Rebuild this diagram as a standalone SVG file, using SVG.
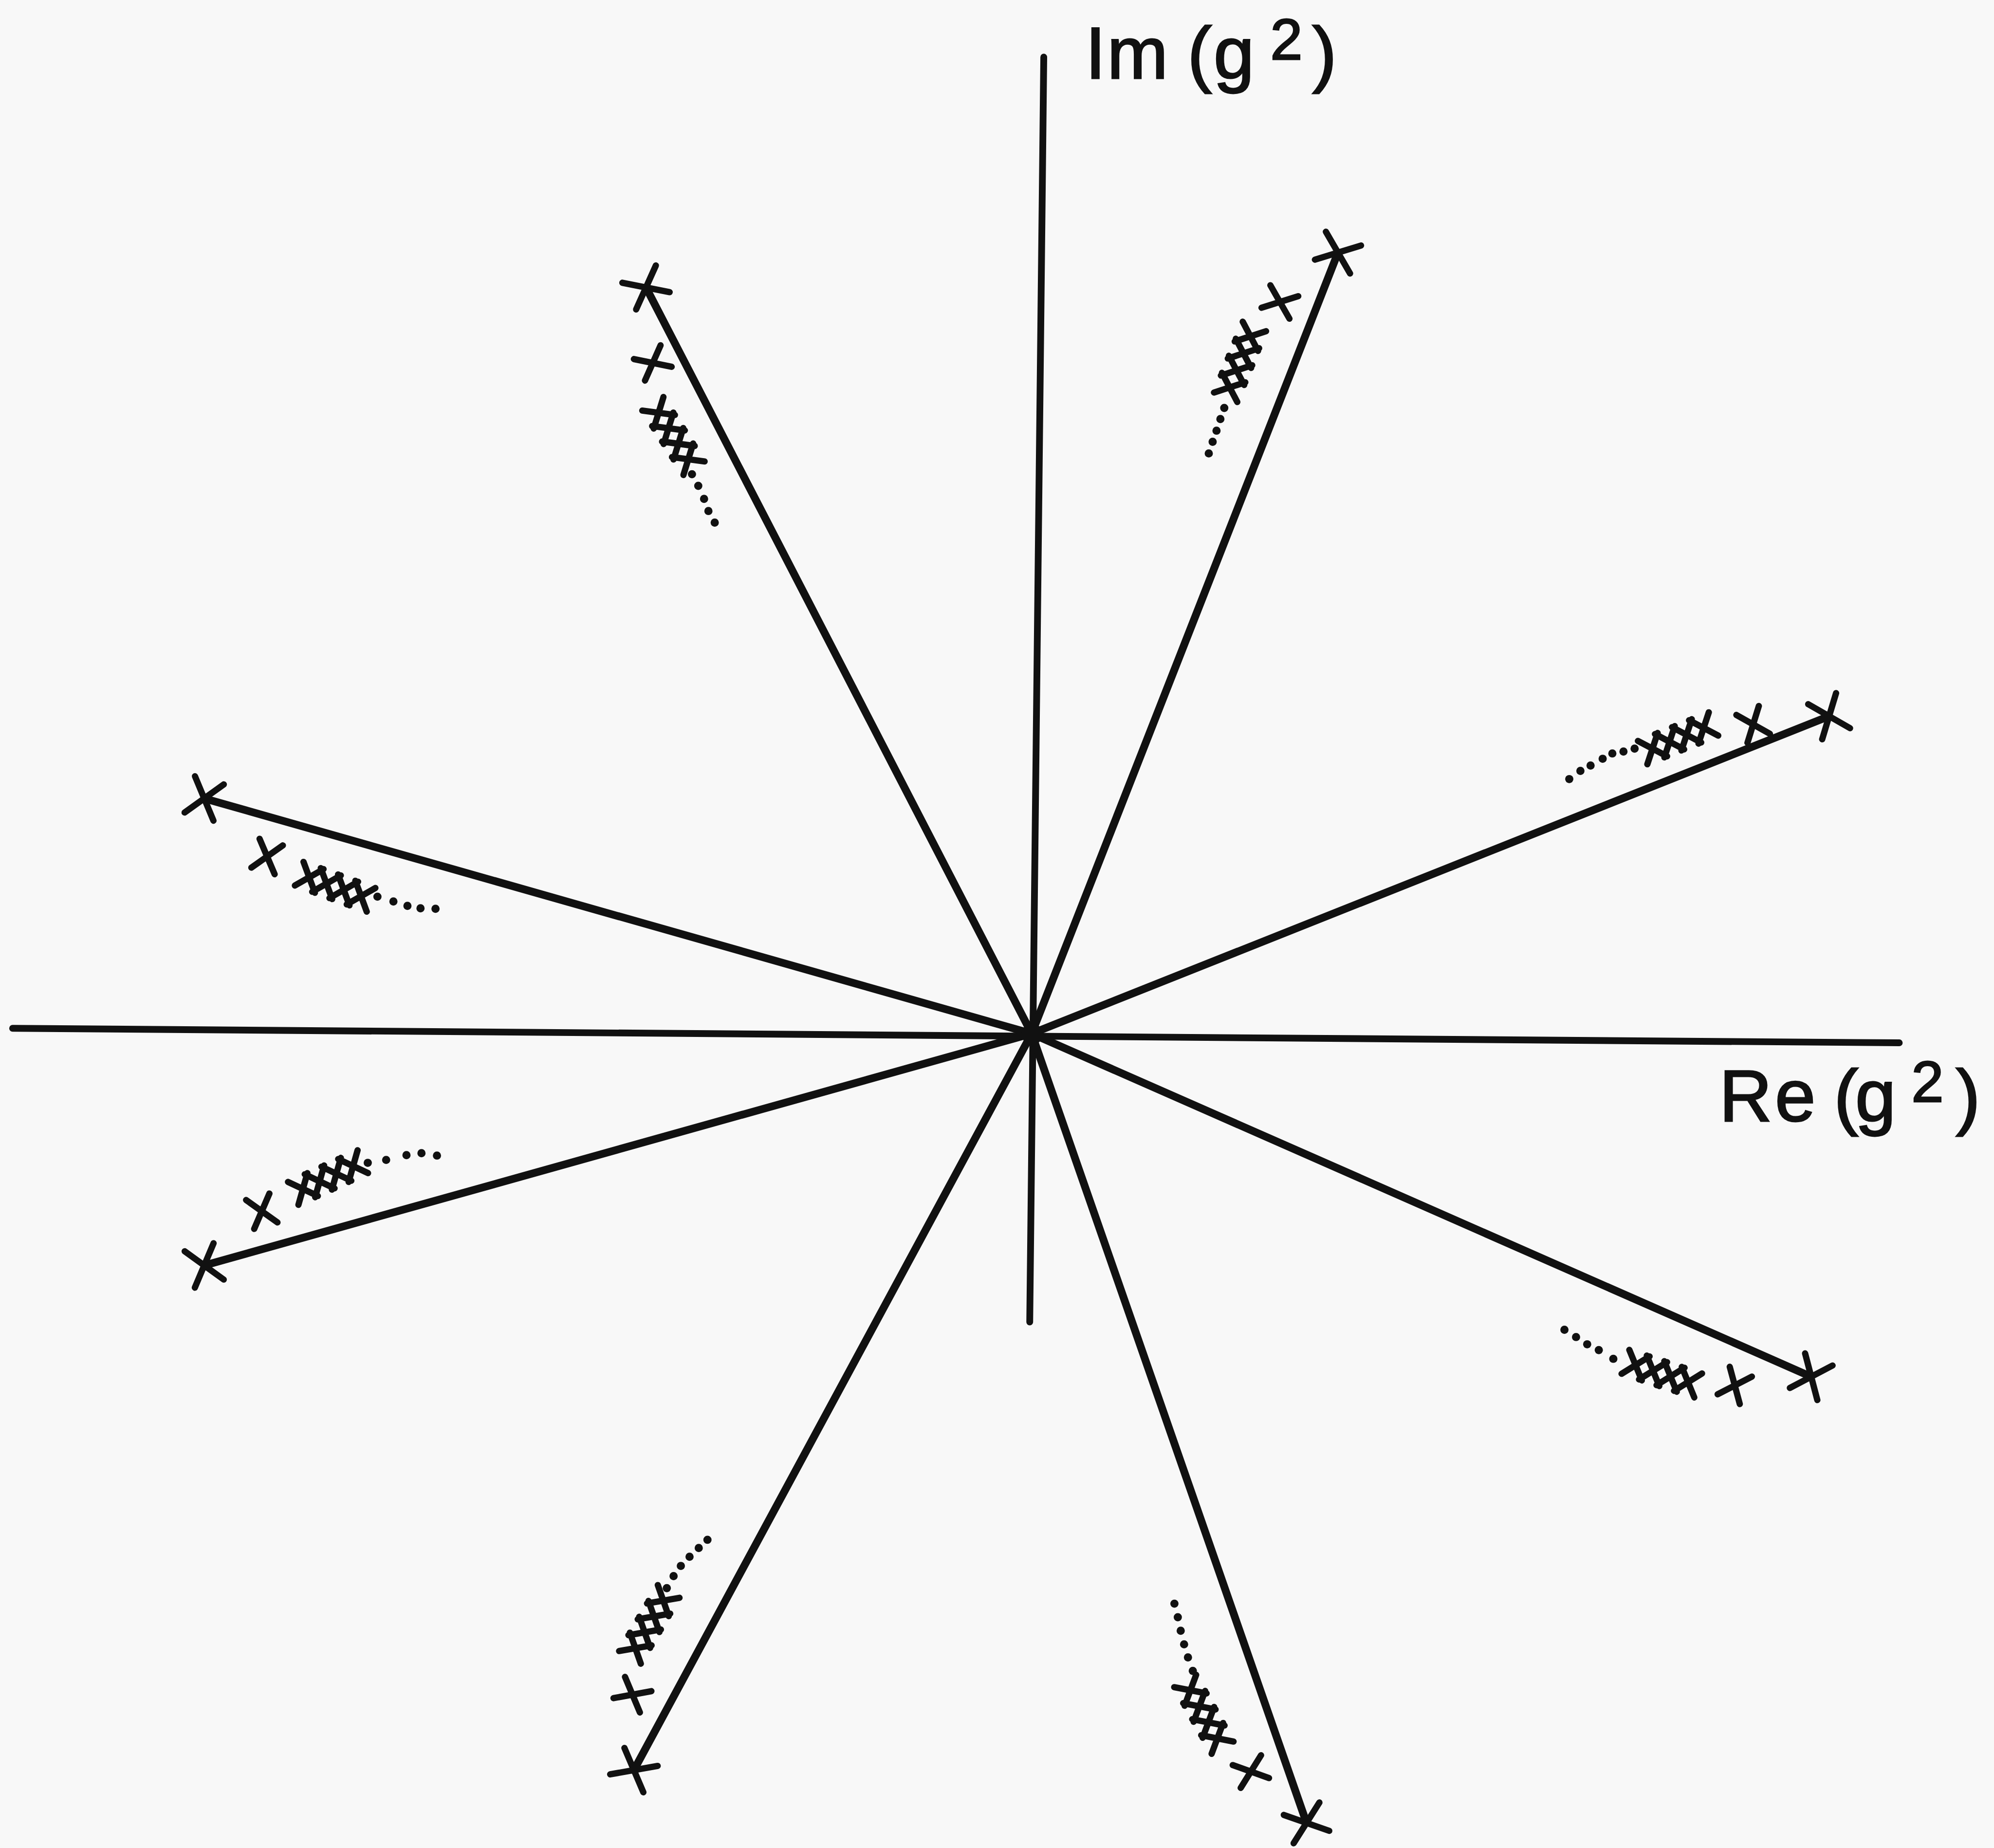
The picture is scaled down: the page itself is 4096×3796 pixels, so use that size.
<svg xmlns="http://www.w3.org/2000/svg" width="4096" height="3796" viewBox="0 0 4096 3796">
<style>
.ink{stroke:#111;fill:none;stroke-linecap:round;stroke-linejoin:round}
.axis{stroke-width:14}
.ray{stroke-width:16}
.mk{stroke-width:13}
.dot{fill:#111;stroke:none}
.lbl{font-family:"Liberation Sans",Arial,sans-serif;font-size:151px;fill:#111;stroke:#111;stroke-width:3}
.sup{font-size:120px}
</style>
<defs>
<path id="xl" d="M-31,-39L31,39M-31,39L31,-39"/>
<path id="xs" d="M-25,-31L25,31M-25,31L25,-31"/>
<path id="ch" d="M-22,-26L22,26M-22,26L22,-26M16,-26L60,26M16,26L60,-26M54,-26L98,26M54,26L98,-26M92,-26L136,26M92,26L136,-26"/>
</defs>
<rect width="4096" height="3796" fill="#f8f8f8"/>
<g transform="scale(0.994)">
<g id="axes" class="ink axis">
<line x1="26" y1="2125" x2="3925" y2="2155"/>
<line x1="2157" y1="118" x2="2128" y2="2732"/>
</g>
<g id="connectors" class="ink ray">
<line x1="2132" y1="2136" x2="1335" y2="594"/>
<line x1="2132" y1="2136" x2="2765" y2="522"/>
<line x1="2132" y1="2136" x2="422" y2="1650"/>
<line x1="2132" y1="2136" x2="3780" y2="1480"/>
<line x1="2132" y1="2136" x2="422" y2="2615"/>
<line x1="2132" y1="2136" x2="3743" y2="2845"/>
<line x1="2132" y1="2136" x2="1310" y2="3658"/>
<line x1="2132" y1="2136" x2="2700" y2="3767"/>
</g>
<circle id="origin" cx="2133" cy="2137" r="22" fill="#111"/>
<g id="ray1">
<g class="ink mk">
<use href="#xl" transform="translate(1335,594) rotate(62.7)"/>
<use href="#xs" transform="translate(1349,750) rotate(62.7)"/>
<use href="#ch" transform="translate(1361,853) rotate(57.4)"/>
</g>
<g class="dot"><circle cx="1430" cy="980" r="8.5"/><circle cx="1443" cy="1004" r="8.5"/><circle cx="1455" cy="1031" r="8.5"/><circle cx="1464" cy="1056" r="8.5"/><circle cx="1477" cy="1080" r="8.5"/></g>
</g>
<g id="ray2">
<g class="ink mk">
<use href="#xl" transform="translate(2765,522) rotate(-68.6)"/>
<use href="#xs" transform="translate(2645,624) rotate(-68.6)"/>
<use href="#ch" transform="translate(2584,695) rotate(112.1)"/>
</g>
<g class="dot"><circle cx="2530" cy="843" r="8.5"/><circle cx="2522" cy="866" r="8.5"/><circle cx="2514" cy="890" r="8.5"/><circle cx="2506" cy="913" r="8.5"/><circle cx="2498" cy="937" r="8.5"/></g>
</g>
<g id="ray3">
<g class="ink mk">
<use href="#xl" transform="translate(422,1650) rotate(15.9)"/>
<use href="#xs" transform="translate(552,1770) rotate(15.9)"/>
<use href="#ch" transform="translate(639,1813) rotate(20)"/>
</g>
<g class="dot"><circle cx="780" cy="1853" r="8.5"/><circle cx="813" cy="1863" r="8.5"/><circle cx="842" cy="1872" r="8.5"/><circle cx="869" cy="1877" r="8.5"/><circle cx="900" cy="1878" r="8.5"/></g>
</g>
<g id="ray4">
<g class="ink mk">
<use href="#xl" transform="translate(3780,1480) rotate(-21.7)"/>
<use href="#xs" transform="translate(3623,1497) rotate(-21.7)"/>
<use href="#ch" transform="translate(3415,1547) rotate(-22)"/>
</g>
<g class="dot"><circle cx="3243" cy="1610" r="8.5"/><circle cx="3266" cy="1593" r="8.5"/><circle cx="3287" cy="1582" r="8.5"/><circle cx="3312" cy="1568" r="8.5"/><circle cx="3332" cy="1557" r="8.5"/><circle cx="3355" cy="1553" r="8.5"/><circle cx="3378" cy="1547" r="8.5"/></g>
</g>
<g id="ray5">
<g class="ink mk">
<use href="#xl" transform="translate(422,2615) rotate(-15.6)"/>
<use href="#xs" transform="translate(541,2503) rotate(-15.6)"/>
<use href="#ch" transform="translate(626,2457) rotate(-24.5)"/>
</g>
<g class="dot"><circle cx="760" cy="2403" r="8.5"/><circle cx="798" cy="2397" r="8.5"/><circle cx="840" cy="2387" r="8.5"/><circle cx="871" cy="2383" r="8.5"/><circle cx="903" cy="2388" r="8.5"/></g>
</g>
<g id="ray6">
<g class="ink mk">
<use href="#xl" transform="translate(3743,2845) rotate(23.8)"/>
<use href="#xs" transform="translate(3585,2863) rotate(23.8)"/>
<use href="#ch" transform="translate(3380,2821) rotate(18)"/>
</g>
<g class="dot"><circle cx="3233" cy="2748" r="8.5"/><circle cx="3257" cy="2763" r="8.5"/><circle cx="3280" cy="2778" r="8.5"/><circle cx="3304" cy="2790" r="8.5"/><circle cx="3334" cy="2808" r="8.5"/></g>
</g>
<g id="ray7">
<g class="ink mk">
<use href="#xl" transform="translate(1310,3658) rotate(118.4)"/>
<use href="#xs" transform="translate(1307,3502) rotate(118.4)"/>
<use href="#ch" transform="translate(1313,3406) rotate(-59.6)"/>
</g>
<g class="dot"><circle cx="1378" cy="3282" r="8.5"/><circle cx="1392" cy="3257" r="8.5"/><circle cx="1407" cy="3236" r="8.5"/><circle cx="1425" cy="3217" r="8.5"/><circle cx="1444" cy="3199" r="8.5"/><circle cx="1462" cy="3182" r="8.5"/></g>
</g>
<g id="ray8">
<g class="ink mk">
<use href="#xl" transform="translate(2700,3767) rotate(70.8)"/>
<use href="#xs" transform="translate(2585,3661) rotate(70.8)"/>
<use href="#ch" transform="translate(2460,3493) rotate(60.7)"/>
</g>
<g class="dot"><circle cx="2427" cy="3314" r="8.5"/><circle cx="2434" cy="3342" r="8.5"/><circle cx="2440" cy="3370" r="8.5"/><circle cx="2447" cy="3398" r="8.5"/><circle cx="2455" cy="3425" r="8.5"/><circle cx="2465" cy="3453" r="8.5"/></g>
</g>
<g id="label-im">
<text class="lbl" y="162"><tspan x="2243">I</tspan><tspan x="2288">m</tspan><tspan x="2454">(</tspan><tspan x="2508">g</tspan><tspan class="sup" x="2625" y="123">2</tspan><tspan x="2712" y="162">)</tspan></text>
</g>
<g id="label-re">
<text class="lbl" y="2317"><tspan x="3553">R</tspan><tspan x="3668">e</tspan><tspan x="3790">(</tspan><tspan x="3834">g</tspan><tspan class="sup" x="3950" y="2277">2</tspan><tspan x="4042" y="2317">)</tspan></text>
</g>
</g>
</svg>
